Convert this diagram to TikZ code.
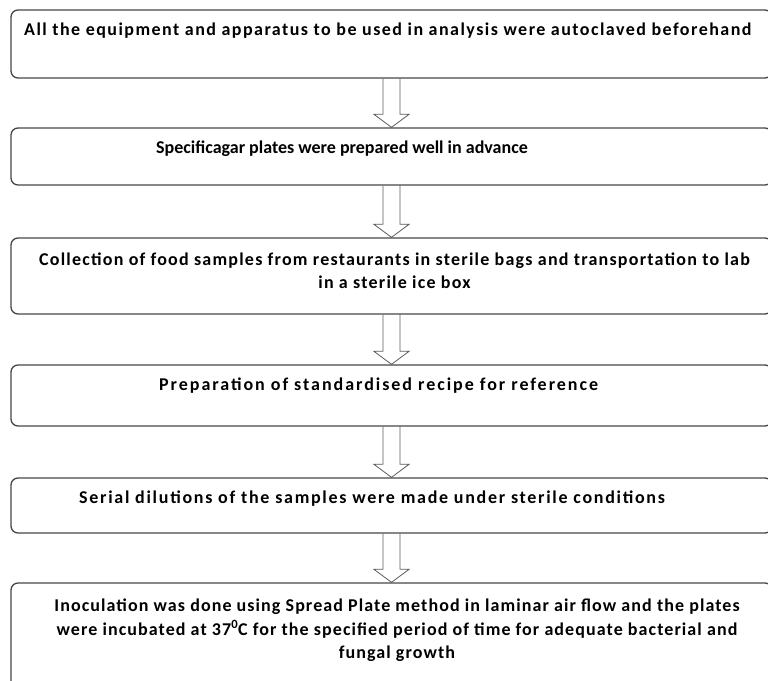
\documentclass[tikz,border=0pt]{standalone}
\usepackage{fontspec}
\setmainfont{Carlito}
\usepackage{tikz}
\usetikzlibrary{calc}
\definecolor{FlowLine}{RGB}{70,70,70}
\definecolor{FlowArrow}{RGB}{90,90,90}

% hollow block arrow from the bottom of one box to the top of the next
\newcommand{\flowarrow}[2]{%
  \draw[hollow] ($(#1.south)+(-8.5,0)$) -- ($(#2.north)+(-8.5,13)$)
     -- ($(#2.north)+(-17.5,13)$) -- (#2.north) -- ($(#2.north)+(17.5,13)$)
     -- ($(#2.north)+(8.5,13)$) -- ($(#1.south)+(8.5,0)$);}

\begin{document}
\begin{tikzpicture}[x=1pt,y=1pt,
  stepbox/.style={draw=FlowLine,line width=1.3pt,rounded corners=7pt,rectangle,minimum width=761pt,inner sep=0pt},
  steptext/.style={inner sep=0pt,font=\fontsize{18}{23.3}\selectfont\bfseries\addfontfeatures{LetterSpace=#1}},
  steptext/.default=0,
  hollow/.style={draw=FlowArrow,line width=0.8pt,line join=miter}]
\clip (0,0) rectangle (768,680);
\useasboundingbox (0,0) rectangle (768,680);
\node[stepbox,minimum height=68pt](s1) at(391.5,636) {};
\node[stepbox,minimum height=57pt](s2) at(391.5,523.5) {};
\node[stepbox,minimum height=76pt](s3) at(391.5,404) {};
\node[stepbox,minimum height=61pt](s4) at(391.5,284.5) {};
\node[stepbox,minimum height=55pt](s5) at(391.5,174.5) {};
\node[stepbox,minimum height=112pt](s6) at(391.5,41) {};
\node[steptext=8.1,anchor=base west](t1) at(24,644.3)
   {All the equipment and apparatus to be used in analysis were autoclaved beforehand};
\node[steptext=0,anchor=base west](t2) at(156,526.7)
   {Specificagar plates were prepared well in advance};
\node[steptext=6.8,anchor=base,align=center](t3) at(394.5,391.2)
   {Collection of food samples from restaurants in sterile bags and transportation to lab\\in a sterile ice box};
\node[steptext=10.9,anchor=base west](t4) at(159,289.5)
   {Preparation of standardised recipe for reference};
\node[steptext=9.5,anchor=base west](t5) at(79,176.7)
   {Serial dilutions of the samples were made under sterile conditions};
\node[steptext=6,anchor=base,align=center](t6) at(397,21.7)
   {Inoculation was done using Spread Plate method in laminar air flow and the plates\\
    were incubated at 37\textsuperscript{0}C for the specified period of time for adequate bacterial and\\
    fungal growth};
\foreach \a/\b in {s1/s2,s2/s3,s3/s4,s4/s5,s5/s6} {
   \flowarrow{\a}{\b}
}
\end{tikzpicture}
\end{document}
